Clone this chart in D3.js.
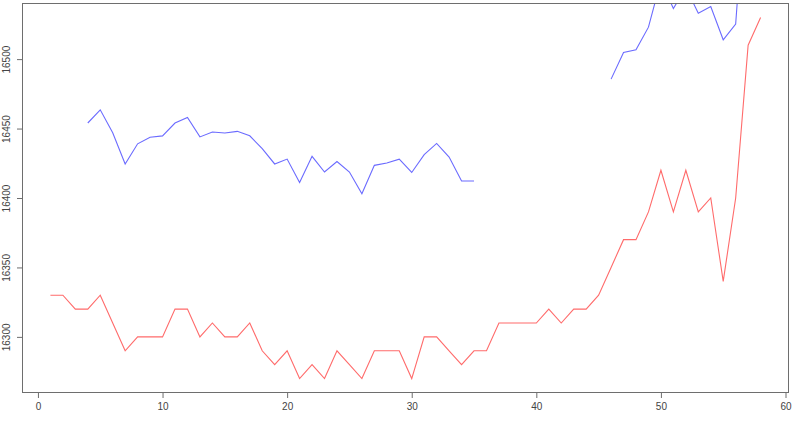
<!DOCTYPE html>
<html>
<head>
<meta charset="utf-8">
<script src="https://cdn.jsdelivr.net/npm/d3@7"></script>
<style>
  body { margin: 0; background: #fff; }
  svg text { font-family: "Liberation Sans", Arial, sans-serif; font-size: 10px; fill: #444; }
</style>
</head>
<body>
<div id="chart"></div>
<script>
// index along the x axis (1..58)
var xValues = d3.range(1, 59);

// red series (every point present)
var redValues = [
  16330, 16330, 16320, 16320, 16330, 16310, 16290, 16300, 16300, 16300,
  16320, 16320, 16300, 16310, 16300, 16300, 16310, 16290, 16280, 16290,
  16270, 16280, 16270, 16290, 16280, 16270, 16290, 16290, 16290, 16270,
  16300, 16300, 16290, 16280, 16290, 16290, 16310, 16310, 16310, 16310,
  16320, 16310, 16320, 16320, 16330, 16350, 16370, 16370, 16390, 16420,
  16390, 16420, 16390, 16400, 16340, 16400, 16510, 16530
];

// blue series, null where there is no value
var blueValues = [
  null, null, null, 16454, 16463.5, 16447, 16424.5, 16439, 16443.8, 16444.7,
  16454, 16458, 16444, 16447.5, 16446.8, 16448, 16444.8, 16435.5, 16424.5, 16428,
  16411.2, 16430, 16418.7, 16426.3, 16418.7, 16403, 16423.5, 16425.2, 16428, 16418.4,
  16431.2, 16439.3, 16429.5, 16412.2, 16412.2, null, null, null, null, null,
  null, null, null, null, null, 16485.6, 16504.8, 16506.7, 16523, 16556.6,
  16536.4, 16551.6, 16533, 16537.8, 16513.9, 16525.2, 16650, null
];

var xTicks = [0, 10, 20, 30, 40, 50, 60];
var yTicks = [16300, 16350, 16400, 16450, 16500];

const chartWidth = 800;
const chartHeight = 421;

const marginTop = 3;
const marginBottom = 28;
const marginLeft = 22;
const marginRight = 11;

function createChart() {
  // R style axes: data range padded by 4% on each side
  var xMin = d3.min(xValues), xMax = d3.max(xValues);
  var xPad = (xMax - xMin) * 0.04;
  var yMin = d3.min(redValues), yMax = d3.max(redValues);
  var yPad = (yMax - yMin) * 0.04;

  var xScale = d3.scaleLinear()
                .domain([xMin - xPad, xMax + xPad])
                .range([marginLeft, chartWidth - marginRight]);

  var yScale = d3.scaleLinear()
                .domain([yMin - yPad, yMax + yPad])
                .range([chartHeight - marginBottom, marginTop]);

  var svg = d3.select("#chart")
              .append("svg")
              .attr("width", chartWidth)
              .attr("height", chartHeight);

  svg.append("clipPath")
    .attr("id", "plotclip")
    .append("rect")
    .attr("x", marginLeft)
    .attr("y", marginTop)
    .attr("width", chartWidth - marginLeft - marginRight)
    .attr("height", chartHeight - marginTop - marginBottom);

  var line = d3.line()
    .defined(function(d) { return d[1] != null; })
    .x(function(d) { return xScale(d[0]); })
    .y(function(d) { return yScale(d[1]); });

  var redData = xValues.map(function(x, i) { return [x, redValues[i]]; });
  var blueData = xValues.map(function(x, i) { return [x, blueValues[i]]; });

  var plot = svg.append("g").attr("clip-path", "url(#plotclip)");

  plot.append("path")
    .datum(redData)
    .attr("d", line)
    .style("fill", "none")
    .style("stroke", "#ff6b6b")
    .style("stroke-width", 1.1);

  plot.append("path")
    .datum(blueData)
    .attr("d", line)
    .style("fill", "none")
    .style("stroke", "#6b6bff")
    .style("stroke-width", 1.1);

  // box round the plot
  svg.append("rect")
    .attr("x", marginLeft + 0.5)
    .attr("y", marginTop + 0.5)
    .attr("width", chartWidth - marginLeft - marginRight - 1)
    .attr("height", chartHeight - marginTop - marginBottom - 1)
    .style("fill", "none")
    .style("stroke", "#6e6e6e")
    .style("stroke-width", 1);

  var xAxis = d3.axisBottom()
              .scale(xScale)
              .tickValues(xTicks)
              .tickSize(5)
              .tickPadding(5);

  var gx = svg.append("g")
    .attr("transform", "translate(0," + (chartHeight - marginBottom) + ")")
    .call(xAxis);
  gx.select(".domain").remove();
  gx.selectAll("line").style("stroke", "#6e6e6e");

  var yAxis = d3.axisLeft()
              .scale(yScale)
              .tickValues(yTicks)
              .tickSize(5)
              .tickFormat(d3.format("d"));

  var gy = svg.append("g")
    .attr("transform", "translate(" + marginLeft + ",0)")
    .call(yAxis);
  gy.select(".domain").remove();
  gy.selectAll("line").style("stroke", "#6e6e6e");
  // labels run along the axis, as R draws them
  gy.selectAll("text")
    .attr("x", 0)
    .attr("y", 0)
    .attr("dy", 0)
    .attr("transform", "translate(" + (10 - marginLeft) + ",0) rotate(-90)")
    .style("text-anchor", "middle");

  svg.selectAll("text").style("font-size", "10px").style("fill", "#444");
}

createChart();
</script>
</body>
</html>
